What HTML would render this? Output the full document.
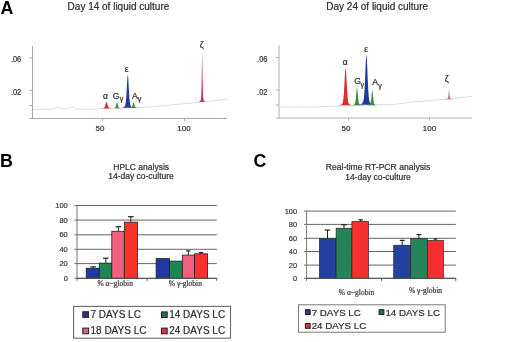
<!DOCTYPE html>
<html><head><meta charset="utf-8"><style>
html,body{margin:0;padding:0;background:#fff;width:520px;height:342px;overflow:hidden;font-family:"Liberation Sans",sans-serif}
svg{display:block;will-change:transform;filter:blur(0.45px)}
text{stroke:#444;stroke-width:0.22px}

</style></head><body>
<svg width="520" height="342" viewBox="0 0 520 342">
<defs>
<linearGradient id="gz1" x1="0" y1="0" x2="0" y2="1"><stop offset="0" stop-color="#d8a8c0"/><stop offset="0.35" stop-color="#c06090"/><stop offset="1" stop-color="#b03a78"/></linearGradient>
<linearGradient id="gz2" x1="0" y1="0" x2="0" y2="1"><stop offset="0" stop-color="#e4c4d2"/><stop offset="1" stop-color="#b86a8c"/></linearGradient>
</defs>
<rect width="520" height="342" fill="#fff"/>
<text x="0.4" y="13.8" style="stroke:none" font-family="'Liberation Sans', sans-serif" font-weight="bold" font-size="17.8" fill="#000">A</text>
<text x="-0.1" y="166.7" style="stroke:none" font-family="'Liberation Sans', sans-serif" font-weight="bold" font-size="17.8" fill="#000">B</text>
<text x="253.4" y="166.6" style="stroke:none" font-family="'Liberation Sans', sans-serif" font-weight="bold" font-size="17.8" fill="#000">C</text>
<text x="67.6" y="10.2" font-family="'Liberation Sans', sans-serif" font-size="10" fill="#222">Day 14 of liquid culture</text>
<text x="326.3" y="10.2" font-family="'Liberation Sans', sans-serif" font-size="10" fill="#222">Day 24 of liquid culture</text>
<line x1="32.5" y1="46" x2="32.5" y2="118.5" stroke="#a8a8a8" stroke-width="1"/>
<line x1="29.5" y1="118.5" x2="227" y2="118.5" stroke="#a8a8a8" stroke-width="1"/>
<line x1="29.5" y1="57.8" x2="32.5" y2="57.8" stroke="#a8a8a8" stroke-width="1"/>
<line x1="29.5" y1="90.3" x2="32.5" y2="90.3" stroke="#a8a8a8" stroke-width="1"/>
<line x1="29.5" y1="105.5" x2="32.5" y2="105.5" stroke="#a8a8a8" stroke-width="1"/>
<line x1="102.7" y1="118.5" x2="102.7" y2="121.0" stroke="#a8a8a8" stroke-width="1"/>
<line x1="184.6" y1="118.5" x2="184.6" y2="121.0" stroke="#a8a8a8" stroke-width="1"/>
<text x="21.2" y="62.4" font-family="'Liberation Sans', sans-serif" font-size="8.5" fill="#222" text-anchor="end" textLength="10.3" lengthAdjust="spacingAndGlyphs">.06</text>
<text x="21.2" y="95.0" font-family="'Liberation Sans', sans-serif" font-size="8.5" fill="#222" text-anchor="end" textLength="10.3" lengthAdjust="spacingAndGlyphs">.02</text>
<text x="100" y="131" font-family="'Liberation Sans', sans-serif" font-size="8" fill="#222" text-anchor="middle">50</text>
<text x="184" y="131" font-family="'Liberation Sans', sans-serif" font-size="8" fill="#222" text-anchor="middle">100</text>
<path d="M33.0,109.2 L38.0,109.5 L44.0,108.9 L50.0,109.4 L55.0,108.6 L58.0,107.4 L62.0,108.8 L68.0,108.6 L72.7,106.8 L76.0,108.9 L82.0,109.2 L88.0,109.4 L95.0,109.1 L100.0,108.7 L110.0,108.4 L120.0,108.3 L135.0,107.9 L150.0,106.9 L165.0,105.6 L185.0,103.6 L195.0,102.6 L210.0,101.1 L227.0,99.4" fill="none" stroke="#dcdcdc" stroke-width="1"/>
<path d="M99.5,108.50 99.7,108.50 99.9,108.49 100.1,108.48 100.3,108.48 100.5,108.47 100.7,108.46 100.9,108.45 101.1,108.44 101.3,108.43 101.5,108.42 101.7,108.40 101.9,108.39 102.1,108.37 102.3,108.35 102.5,108.33 102.7,108.30 102.9,108.27 103.1,108.23 103.3,108.18 103.5,108.11 103.7,108.02 103.9,107.90 104.1,107.73 104.3,107.50 104.5,107.20 104.7,106.81 104.9,106.33 105.1,105.74 105.3,105.08 105.5,104.37 105.7,103.66 105.9,103.01 106.1,102.47 106.3,102.12 106.5,102.00 106.7,102.12 106.9,102.47 107.1,103.01 107.3,103.66 107.5,104.37 107.7,105.08 107.9,105.74 108.1,106.33 108.3,106.81 108.5,107.20 108.7,107.50 108.9,107.73 109.1,107.90 109.3,108.02 109.5,108.11 109.7,108.18 109.9,108.23 110.1,108.27 110.3,108.30 110.5,108.33 110.7,108.35 110.9,108.37 111.1,108.39 111.3,108.40 111.5,108.42 111.7,108.43 111.9,108.44 112.1,108.45 112.3,108.46 112.5,108.47 112.7,108.48 112.9,108.48 113.1,108.49 113.3,108.50 113.5,108.50Z" fill="#d83030"/>
<path d="M110.8,108.33 111.0,108.32 111.2,108.32 111.4,108.31 111.6,108.30 111.8,108.30 112.0,108.29 112.2,108.28 112.4,108.27 112.6,108.26 112.8,108.25 113.0,108.23 113.2,108.22 113.4,108.20 113.6,108.18 113.8,108.15 114.0,108.12 114.2,108.08 114.4,108.03 114.6,107.95 114.8,107.85 115.0,107.69 115.2,107.46 115.4,107.13 115.6,106.67 115.8,106.08 116.0,105.36 116.2,104.56 116.4,103.75 116.6,103.05 116.8,102.57 117.0,102.40 117.2,102.57 117.4,103.05 117.6,103.75 117.8,104.56 118.0,105.36 118.2,106.08 118.4,106.67 118.6,107.13 118.8,107.46 119.0,107.69 119.2,107.85 119.4,107.95 119.6,108.03 119.8,108.08 120.0,108.12 120.2,108.15 120.4,108.18 120.6,108.20 120.8,108.22 121.0,108.23 121.2,108.25 121.4,108.26 121.6,108.27 121.8,108.28 122.0,108.29 122.2,108.30 122.4,108.30 122.6,108.31 122.8,108.32 123.0,108.32 123.2,108.33Z" fill="#3c8a3c"/>
<path d="M121.0,107.82 121.2,107.80 121.4,107.77 121.6,107.73 121.8,107.70 122.0,107.66 122.2,107.61 122.4,107.57 122.6,107.51 122.8,107.45 123.0,107.39 123.2,107.32 123.4,107.23 123.6,107.14 123.8,107.04 124.0,106.91 124.2,106.77 124.4,106.60 124.6,106.38 124.8,106.10 125.0,105.72 125.2,105.20 125.4,104.48 125.6,103.48 125.8,102.10 126.0,100.27 126.2,97.92 126.4,95.03 126.6,91.65 126.8,87.93 127.0,84.13 127.2,80.56 127.4,77.62 127.6,75.68 127.8,75.00 128.0,75.68 128.2,77.62 128.4,80.56 128.6,84.13 128.8,87.93 129.0,91.65 129.2,95.03 129.4,97.92 129.6,100.27 129.8,102.10 130.0,103.48 130.2,104.48 130.4,105.20 130.6,105.72 130.8,106.10 131.0,106.38 131.2,106.60 131.4,106.77 131.6,106.91 131.8,107.04 132.0,107.14 132.2,107.23 132.4,107.32 132.6,107.39 132.8,107.45 133.0,107.51 133.2,107.57 133.4,107.61 133.6,107.66 133.8,107.70 134.0,107.73 134.2,107.77 134.4,107.80 134.6,107.82Z" fill="#23399a"/>
<path d="M127.4,107.93 127.6,107.93 127.8,107.92 128.0,107.92 128.2,107.91 128.4,107.90 128.6,107.90 128.8,107.89 129.0,107.88 129.2,107.87 129.4,107.86 129.6,107.84 129.8,107.83 130.0,107.81 130.2,107.79 130.4,107.77 130.6,107.74 130.8,107.70 131.0,107.65 131.2,107.58 131.4,107.49 131.6,107.34 131.8,107.12 132.0,106.81 132.2,106.39 132.4,105.83 132.6,105.16 132.8,104.41 133.0,103.66 133.2,103.01 133.4,102.56 133.6,102.40 133.8,102.56 134.0,103.01 134.2,103.66 134.4,104.41 134.6,105.16 134.8,105.83 135.0,106.39 135.2,106.81 135.4,107.12 135.6,107.34 135.8,107.49 136.0,107.58 136.2,107.65 136.4,107.70 136.6,107.74 136.8,107.77 137.0,107.79 137.2,107.81 137.4,107.83 137.6,107.84 137.8,107.86 138.0,107.87 138.2,107.88 138.4,107.89 138.6,107.90 138.8,107.90 139.0,107.91 139.2,107.92 139.4,107.92 139.6,107.93 139.8,107.93Z" fill="#3c8a3c"/>
<path d="M197.5,102.04 197.7,102.02 197.9,101.99 198.1,101.96 198.3,101.93 198.5,101.89 198.7,101.84 198.9,101.79 199.1,101.72 199.3,101.64 199.5,101.55 199.7,101.43 199.9,101.28 200.1,101.10 200.3,100.86 200.5,100.54 200.7,100.05 200.9,99.19 201.1,97.36 201.3,93.38 201.5,85.75 201.7,74.06 201.9,60.97 202.1,52.36 202.3,53.42 202.5,63.45 202.7,76.65 202.9,87.62 203.1,94.42 203.3,97.85 203.5,99.41 203.7,100.17 203.9,100.61 204.1,100.91 204.3,101.14 204.5,101.32 204.7,101.46 204.9,101.57 205.1,101.66 205.3,101.74 205.5,101.80 205.7,101.85 205.9,101.90 206.1,101.94 206.3,101.97 206.5,102.00 206.7,102.03Z" fill="url(#gz1)"/>
<text x="102.9" y="98.6" font-family="'Liberation Sans', sans-serif" font-size="8.5" fill="#111" >α</text>
<text x="112.7" y="98.7" font-family="'Liberation Sans', sans-serif" font-size="8.6" fill="#111" >G</text>
<text x="119.7" y="101.2" font-family="'Liberation Sans', sans-serif" font-size="7" fill="#111" >γ</text>
<text x="124.8" y="72.2" font-family="'Liberation Sans', sans-serif" font-size="8.5" fill="#111" >ε</text>
<text x="132.1" y="98.7" font-family="'Liberation Sans', sans-serif" font-size="8.6" fill="#111" >A</text>
<text x="137.7" y="101.4" font-family="'Liberation Sans', sans-serif" font-size="7" fill="#111" >γ</text>
<text x="199.8" y="48.1" font-family="'Liberation Sans', sans-serif" font-size="9" fill="#111" >ζ</text>
<path d="M195.4,101.5 L195.8,94.6 L196.4,94.6 L196.8,101.5 Z" fill="#d4eef0"/>
<line x1="279" y1="45.3" x2="279" y2="118" stroke="#b0b0b0" stroke-width="1"/>
<line x1="276" y1="118" x2="472" y2="118" stroke="#b0b0b0" stroke-width="1"/>
<line x1="276" y1="57.5" x2="279" y2="57.5" stroke="#b0b0b0" stroke-width="1"/>
<line x1="276" y1="90" x2="279" y2="90" stroke="#b0b0b0" stroke-width="1"/>
<line x1="276" y1="105" x2="279" y2="105" stroke="#b0b0b0" stroke-width="1"/>
<line x1="348.5" y1="118" x2="348.5" y2="120.5" stroke="#b0b0b0" stroke-width="1"/>
<line x1="429.4" y1="118" x2="429.4" y2="120.5" stroke="#b0b0b0" stroke-width="1"/>
<text x="267.4" y="62.3" font-family="'Liberation Sans', sans-serif" font-size="8.5" fill="#222" text-anchor="end" textLength="10.3" lengthAdjust="spacingAndGlyphs">.06</text>
<text x="267.4" y="94.6" font-family="'Liberation Sans', sans-serif" font-size="8.5" fill="#222" text-anchor="end" textLength="10.3" lengthAdjust="spacingAndGlyphs">.02</text>
<text x="346" y="131" font-family="'Liberation Sans', sans-serif" font-size="8" fill="#222" text-anchor="middle">50</text>
<text x="429.5" y="131" font-family="'Liberation Sans', sans-serif" font-size="8" fill="#222" text-anchor="middle">100</text>
<path d="M280.0,106.8 L290.0,107.2 L300.0,106.9 L310.0,107.2 L320.0,106.8 L330.0,106.3 L340.0,105.8 L350.0,105.6 L360.0,105.5 L370.0,105.3 L380.0,104.5 L392.0,104.8 L402.0,103.4 L413.0,102.0 L430.0,100.6 L448.0,99.0 L460.0,97.7 L472.0,96.3" fill="none" stroke="#dcdcdc" stroke-width="1"/>
<path d="M338.2,105.20 338.4,105.18 338.6,105.16 338.8,105.13 339.0,105.11 339.2,105.08 339.4,105.05 339.6,105.01 339.8,104.97 340.0,104.93 340.2,104.89 340.4,104.84 340.6,104.78 340.8,104.72 341.0,104.65 341.2,104.57 341.4,104.47 341.6,104.36 341.8,104.21 342.0,104.03 342.2,103.78 342.4,103.45 342.6,102.98 342.8,102.34 343.0,101.45 343.2,100.26 343.4,98.69 343.6,96.68 343.8,94.19 344.0,91.23 344.2,87.85 344.4,84.17 344.6,80.36 344.8,76.67 345.0,73.38 345.2,70.76 345.4,69.08 345.6,68.50 345.8,69.08 346.0,70.76 346.2,73.38 346.4,76.67 346.6,80.36 346.8,84.17 347.0,87.85 347.2,91.23 347.4,94.19 347.6,96.68 347.8,98.69 348.0,100.26 348.2,101.45 348.4,102.34 348.6,102.98 348.8,103.45 349.0,103.78 349.2,104.03 349.4,104.21 349.6,104.36 349.8,104.47 350.0,104.57 350.2,104.65 350.4,104.72 350.6,104.78 350.8,104.84 351.0,104.89 351.2,104.93 351.4,104.97 351.6,105.01 351.8,105.05 352.0,105.08 352.2,105.11 352.4,105.13 352.6,105.16 352.8,105.18 353.0,105.20Z" fill="#d83030"/>
<path d="M350.8,105.28 351.0,105.27 351.2,105.25 351.4,105.23 351.6,105.22 351.8,105.19 352.0,105.17 352.2,105.15 352.4,105.12 352.6,105.08 352.8,105.05 353.0,105.00 353.2,104.96 353.4,104.90 353.6,104.84 353.8,104.76 354.0,104.67 354.2,104.55 354.4,104.39 354.6,104.18 354.8,103.87 355.0,103.40 355.2,102.72 355.4,101.73 355.6,100.37 355.8,98.61 356.0,96.48 356.2,94.10 356.4,91.72 356.6,89.64 356.8,88.21 357.0,87.70 357.2,88.21 357.4,89.64 357.6,91.72 357.8,94.10 358.0,96.48 358.2,98.61 358.4,100.37 358.6,101.73 358.8,102.72 359.0,103.40 359.2,103.87 359.4,104.18 359.6,104.39 359.8,104.55 360.0,104.67 360.2,104.76 360.4,104.84 360.6,104.90 360.8,104.96 361.0,105.00 361.2,105.05 361.4,105.08 361.6,105.12 361.8,105.15 362.0,105.17 362.2,105.19 362.4,105.22 362.6,105.23 362.8,105.25 363.0,105.27 363.2,105.28Z" fill="#3c8a3c"/>
<path d="M359.0,104.69 359.2,104.65 359.4,104.60 359.6,104.55 359.8,104.50 360.0,104.44 360.2,104.38 360.4,104.31 360.6,104.23 360.8,104.15 361.0,104.05 361.2,103.95 361.4,103.84 361.6,103.71 361.8,103.57 362.0,103.41 362.2,103.23 362.4,103.01 362.6,102.75 362.8,102.43 363.0,102.02 363.2,101.49 363.4,100.79 363.6,99.86 363.8,98.62 364.0,96.98 364.2,94.87 364.4,92.20 364.6,88.93 364.8,85.05 365.0,80.64 365.2,75.84 365.4,70.87 365.6,66.04 365.8,61.73 366.0,58.29 366.2,56.07 366.4,55.30 366.6,56.07 366.8,58.29 367.0,61.73 367.2,66.04 367.4,70.87 367.6,75.84 367.8,80.64 368.0,85.05 368.2,88.93 368.4,92.20 368.6,94.87 368.8,96.98 369.0,98.62 369.2,99.86 369.4,100.79 369.6,101.49 369.8,102.02 370.0,102.43 370.2,102.75 370.4,103.01 370.6,103.23 370.8,103.41 371.0,103.57 371.2,103.71 371.4,103.84 371.6,103.95 371.8,104.05 372.0,104.15 372.2,104.23 372.4,104.31 372.6,104.38 372.8,104.44 373.0,104.50 373.2,104.55 373.4,104.60 373.6,104.65 373.8,104.69Z" fill="#23399a"/>
<path d="M366.3,105.23 366.5,105.22 366.7,105.20 366.9,105.19 367.1,105.17 367.3,105.16 367.5,105.14 367.7,105.12 367.9,105.09 368.1,105.06 368.3,105.03 368.5,104.99 368.7,104.95 368.9,104.90 369.1,104.85 369.3,104.78 369.5,104.70 369.7,104.59 369.9,104.44 370.1,104.23 370.3,103.92 370.5,103.44 370.7,102.72 370.9,101.68 371.1,100.27 371.3,98.47 371.5,96.40 371.7,94.25 371.9,92.33 372.1,90.99 372.3,90.50 372.5,90.99 372.7,92.33 372.9,94.25 373.1,96.40 373.3,98.47 373.5,100.27 373.7,101.68 373.9,102.72 374.1,103.44 374.3,103.92 374.5,104.23 374.7,104.44 374.9,104.59 375.1,104.70 375.3,104.78 375.5,104.85 375.7,104.90 375.9,104.95 376.1,104.99 376.3,105.03 376.5,105.06 376.7,105.09 376.9,105.12 377.1,105.14 377.3,105.16 377.5,105.17 377.7,105.19 377.9,105.20 378.1,105.22 378.3,105.23Z" fill="#3c8a3c"/>
<path d="M444.0,99.15 444.2,99.14 444.4,99.14 444.6,99.13 444.8,99.12 445.0,99.12 445.2,99.11 445.4,99.10 445.6,99.09 445.8,99.07 446.0,99.06 446.2,99.04 446.4,99.01 446.6,98.98 446.8,98.94 447.0,98.90 447.2,98.83 447.4,98.71 447.6,98.49 447.8,98.04 448.0,97.17 448.2,95.69 448.4,93.56 448.6,91.12 448.8,89.10 449.0,88.30 449.2,89.10 449.4,91.12 449.6,93.56 449.8,95.69 450.0,97.17 450.2,98.04 450.4,98.49 450.6,98.71 450.8,98.83 451.0,98.90 451.2,98.94 451.4,98.98 451.6,99.01 451.8,99.04 452.0,99.06 452.2,99.07 452.4,99.09 452.6,99.10 452.8,99.11 453.0,99.12 453.2,99.12 453.4,99.13 453.6,99.14 453.8,99.14 454.0,99.15Z" fill="url(#gz2)"/>
<text x="342.8" y="64.8" font-family="'Liberation Sans', sans-serif" font-size="8.5" fill="#111" >α</text>
<text x="354.2" y="84.3" font-family="'Liberation Sans', sans-serif" font-size="8.6" fill="#111" >G</text>
<text x="360.6" y="87.0" font-family="'Liberation Sans', sans-serif" font-size="7" fill="#111" >γ</text>
<text x="364.3" y="52.4" font-family="'Liberation Sans', sans-serif" font-size="8.5" fill="#111" >ε</text>
<text x="372.2" y="85.2" font-family="'Liberation Sans', sans-serif" font-size="8.6" fill="#111" >A</text>
<text x="378.2" y="87.9" font-family="'Liberation Sans', sans-serif" font-size="7" fill="#111" >γ</text>
<text x="444.8" y="82.4" font-family="'Liberation Sans', sans-serif" font-size="9" fill="#111" >ζ</text>
<text x="141.2" y="169.6" font-family="'Liberation Sans', sans-serif" font-size="8.5" fill="#222" text-anchor="middle">HPLC analysis</text>
<text x="141" y="179.3" font-family="'Liberation Sans', sans-serif" font-size="8.5" fill="#222" text-anchor="middle">14-day co-culture</text>
<line x1="74.5" y1="278.30" x2="216.8" y2="278.30" stroke="#555" stroke-width="0.9"/>
<text x="67.8" y="280.90" font-family="'Liberation Sans', sans-serif" font-size="7.5" fill="#333" text-anchor="end">0</text>
<line x1="74.5" y1="263.60" x2="216.8" y2="263.60" stroke="#555" stroke-width="0.9"/>
<text x="67.8" y="266.20" font-family="'Liberation Sans', sans-serif" font-size="7.5" fill="#333" text-anchor="end">20</text>
<line x1="74.5" y1="249.30" x2="216.8" y2="249.30" stroke="#555" stroke-width="0.9"/>
<text x="67.8" y="251.90" font-family="'Liberation Sans', sans-serif" font-size="7.5" fill="#333" text-anchor="end">40</text>
<line x1="74.5" y1="234.80" x2="216.8" y2="234.80" stroke="#555" stroke-width="0.9"/>
<text x="67.8" y="237.40" font-family="'Liberation Sans', sans-serif" font-size="7.5" fill="#333" text-anchor="end">60</text>
<line x1="74.5" y1="220.10" x2="216.8" y2="220.10" stroke="#555" stroke-width="0.9"/>
<text x="67.8" y="222.70" font-family="'Liberation Sans', sans-serif" font-size="7.5" fill="#333" text-anchor="end">80</text>
<line x1="74.5" y1="205.50" x2="216.8" y2="205.50" stroke="#555" stroke-width="0.9"/>
<text x="67.8" y="208.10" font-family="'Liberation Sans', sans-serif" font-size="7.5" fill="#333" text-anchor="end">100</text>
<line x1="77" y1="205.5" x2="77" y2="280.8" stroke="#777" stroke-width="1"/>
<rect x="86.2" y="268.2" width="13.099999999999994" height="10.100000000000023" fill="#2038a0" stroke="#222" stroke-width="0.8"/>
<rect x="99.3" y="263.1" width="12.5" height="15.199999999999989" fill="#1f8552" stroke="#222" stroke-width="0.8"/>
<rect x="111.8" y="231.3" width="12.5" height="47.0" fill="#f45f7e" stroke="#222" stroke-width="0.8"/>
<rect x="124.3" y="222.2" width="13.200000000000003" height="56.10000000000002" fill="#f5322e" stroke="#222" stroke-width="0.8"/>
<rect x="156.1" y="258.6" width="13.5" height="19.69999999999999" fill="#2038a0" stroke="#222" stroke-width="0.8"/>
<rect x="169.6" y="261.1" width="12.700000000000017" height="17.19999999999999" fill="#1f8552" stroke="#222" stroke-width="0.8"/>
<rect x="182.3" y="255.1" width="12.299999999999983" height="23.200000000000017" fill="#f45f7e" stroke="#222" stroke-width="0.8"/>
<rect x="194.6" y="253.8" width="13.0" height="24.5" fill="#f5322e" stroke="#222" stroke-width="0.8"/>
<line x1="93.1" y1="268.2" x2="93.1" y2="266.8" stroke="#222" stroke-width="1"/>
<line x1="90.3" y1="266.8" x2="95.89999999999999" y2="266.8" stroke="#222" stroke-width="1.2"/>
<line x1="105.8" y1="263.1" x2="105.8" y2="258.2" stroke="#222" stroke-width="1"/>
<line x1="103.0" y1="258.2" x2="108.6" y2="258.2" stroke="#222" stroke-width="1.2"/>
<line x1="118.4" y1="231.3" x2="118.4" y2="226.7" stroke="#222" stroke-width="1"/>
<line x1="115.5" y1="226.7" x2="121.30000000000001" y2="226.7" stroke="#222" stroke-width="1.2"/>
<line x1="130.8" y1="222.2" x2="130.8" y2="216.7" stroke="#222" stroke-width="1"/>
<line x1="127.9" y1="216.7" x2="133.70000000000002" y2="216.7" stroke="#222" stroke-width="1.2"/>
<line x1="188.3" y1="255.1" x2="188.3" y2="250.9" stroke="#222" stroke-width="1"/>
<line x1="186.10000000000002" y1="250.9" x2="190.5" y2="250.9" stroke="#222" stroke-width="1.2"/>
<line x1="201" y1="253.8" x2="201" y2="252.5" stroke="#222" stroke-width="1"/>
<line x1="198.8" y1="252.5" x2="203.2" y2="252.5" stroke="#222" stroke-width="1.2"/>
<line x1="77" y1="278.3" x2="216.8" y2="278.3" stroke="#555" stroke-width="1"/>
<line x1="147.1" y1="278.3" x2="147.1" y2="280.8" stroke="#555" stroke-width="1"/>
<line x1="216.8" y1="278.3" x2="216.8" y2="280.8" stroke="#555" stroke-width="1"/>
<text x="97.5" y="286.0" font-family="'Liberation Serif', serif" font-size="7.5" fill="#333">% α−globin</text>
<text x="168.8" y="285.6" font-family="'Liberation Serif', serif" font-size="7.5" fill="#333">% γ-globin</text>
<rect x="73.6" y="306.4" width="156.9" height="31.8" fill="#fff" stroke="#6a6a6a" stroke-width="1.1"/>
<rect x="82.8" y="311.7" width="5.7" height="5.7" fill="#2a3380" stroke="#222" stroke-width="1"/>
<text x="90.5" y="318.1" font-family="'Liberation Sans', sans-serif" font-size="10" fill="#222">7 DAYS LC</text>
<rect x="161.5" y="311.9" width="5.7" height="5.7" fill="#276c4e" stroke="#222" stroke-width="1"/>
<text x="169.2" y="318.1" font-family="'Liberation Sans', sans-serif" font-size="10" fill="#222">14 DAYS LC</text>
<rect x="82.8" y="328.1" width="5.7" height="5.7" fill="#e0607e" stroke="#222" stroke-width="1"/>
<text x="90.5" y="334.4" font-family="'Liberation Sans', sans-serif" font-size="10" fill="#222">18 DAYS LC</text>
<rect x="161.5" y="328.1" width="5.7" height="5.7" fill="#d8383a" stroke="#222" stroke-width="1"/>
<text x="169.2" y="334.4" font-family="'Liberation Sans', sans-serif" font-size="10" fill="#222">24 DAYS LC</text>
<text x="378" y="170" font-family="'Liberation Sans', sans-serif" font-size="8.6" fill="#222" text-anchor="middle">Real-time RT-PCR analysis</text>
<text x="378" y="180" font-family="'Liberation Sans', sans-serif" font-size="8.5" fill="#222" text-anchor="middle">14-day co-culture</text>
<line x1="304.1" y1="278.30" x2="455.8" y2="278.30" stroke="#555" stroke-width="0.9"/>
<text x="297.2" y="280.90" font-family="'Liberation Sans', sans-serif" font-size="7.5" fill="#333" text-anchor="end">0</text>
<line x1="304.1" y1="265.10" x2="455.8" y2="265.10" stroke="#555" stroke-width="0.9"/>
<text x="297.2" y="267.70" font-family="'Liberation Sans', sans-serif" font-size="7.5" fill="#333" text-anchor="end">20</text>
<line x1="304.1" y1="251.50" x2="455.8" y2="251.50" stroke="#555" stroke-width="0.9"/>
<text x="297.2" y="254.10" font-family="'Liberation Sans', sans-serif" font-size="7.5" fill="#333" text-anchor="end">40</text>
<line x1="304.1" y1="238.30" x2="455.8" y2="238.30" stroke="#555" stroke-width="0.9"/>
<text x="297.2" y="240.90" font-family="'Liberation Sans', sans-serif" font-size="7.5" fill="#333" text-anchor="end">60</text>
<line x1="304.1" y1="224.40" x2="455.8" y2="224.40" stroke="#555" stroke-width="0.9"/>
<text x="297.2" y="227.00" font-family="'Liberation Sans', sans-serif" font-size="7.5" fill="#333" text-anchor="end">80</text>
<line x1="304.1" y1="211.10" x2="455.8" y2="211.10" stroke="#555" stroke-width="0.9"/>
<text x="297.2" y="213.70" font-family="'Liberation Sans', sans-serif" font-size="7.5" fill="#333" text-anchor="end">100</text>
<line x1="306.6" y1="211" x2="306.6" y2="280.8" stroke="#777" stroke-width="1"/>
<rect x="319.4" y="238.6" width="16.700000000000045" height="39.70000000000002" fill="#2342a0" stroke="#222" stroke-width="0.65"/>
<rect x="336.1" y="228.2" width="15.799999999999955" height="50.10000000000002" fill="#26845a" stroke="#222" stroke-width="0.65"/>
<rect x="351.9" y="221.3" width="16.700000000000045" height="57.0" fill="#f5302e" stroke="#222" stroke-width="0.65"/>
<rect x="393.7" y="245.2" width="17.0" height="33.10000000000002" fill="#2342a0" stroke="#222" stroke-width="0.65"/>
<rect x="410.7" y="238.7" width="16.69999999999999" height="39.60000000000002" fill="#26845a" stroke="#222" stroke-width="0.65"/>
<rect x="427.4" y="240.4" width="16.100000000000023" height="37.900000000000006" fill="#f5302e" stroke="#222" stroke-width="0.65"/>
<line x1="327.5" y1="238.6" x2="327.5" y2="230" stroke="#222" stroke-width="1"/>
<line x1="324.7" y1="230" x2="330.3" y2="230" stroke="#222" stroke-width="1.2"/>
<line x1="344" y1="228.2" x2="344" y2="224.8" stroke="#222" stroke-width="1"/>
<line x1="341.2" y1="224.8" x2="346.8" y2="224.8" stroke="#222" stroke-width="1.2"/>
<line x1="360.7" y1="221.3" x2="360.7" y2="219.8" stroke="#222" stroke-width="1"/>
<line x1="358.5" y1="219.8" x2="362.9" y2="219.8" stroke="#222" stroke-width="1.2"/>
<line x1="402.2" y1="245.2" x2="402.2" y2="240.4" stroke="#222" stroke-width="1"/>
<line x1="399.8" y1="240.4" x2="404.59999999999997" y2="240.4" stroke="#222" stroke-width="1.2"/>
<line x1="418.9" y1="238.7" x2="418.9" y2="234.6" stroke="#222" stroke-width="1"/>
<line x1="416.5" y1="234.6" x2="421.29999999999995" y2="234.6" stroke="#222" stroke-width="1.2"/>
<line x1="435.4" y1="240.4" x2="435.4" y2="239" stroke="#222" stroke-width="1"/>
<line x1="433.4" y1="239" x2="437.4" y2="239" stroke="#222" stroke-width="1.2"/>
<line x1="306.6" y1="278.3" x2="455.8" y2="278.3" stroke="#555" stroke-width="1"/>
<line x1="381.6" y1="278.3" x2="381.6" y2="280.8" stroke="#555" stroke-width="1"/>
<line x1="455.8" y1="278.3" x2="455.8" y2="280.8" stroke="#555" stroke-width="1"/>
<text x="338.8" y="294.9" font-family="'Liberation Serif', serif" font-size="7.5" fill="#333">% α−globin</text>
<text x="409" y="293" font-family="'Liberation Serif', serif" font-size="7.5" fill="#333">% γ-globin</text>
<rect x="298.5" y="304.8" width="146.7" height="27.4" fill="#fff" stroke="#777" stroke-width="1"/>
<rect x="305.40000000000003" y="309.7" width="4.8" height="4.8" fill="#2a3a88" stroke="#222" stroke-width="1"/>
<text x="311.70000000000005" y="315.5" font-family="'Liberation Sans', sans-serif" font-size="9.75" fill="#222">7 DAYS LC</text>
<rect x="379.1" y="309.7" width="4.8" height="4.8" fill="#276c4e" stroke="#222" stroke-width="1"/>
<text x="385.40000000000003" y="315.5" font-family="'Liberation Sans', sans-serif" font-size="9.75" fill="#222">14 DAYS LC</text>
<rect x="305.40000000000003" y="323.5" width="4.8" height="4.8" fill="#d8383a" stroke="#222" stroke-width="1"/>
<text x="311.70000000000005" y="329.3" font-family="'Liberation Sans', sans-serif" font-size="9.75" fill="#222">24 DAYS LC</text>
</svg></body></html>
